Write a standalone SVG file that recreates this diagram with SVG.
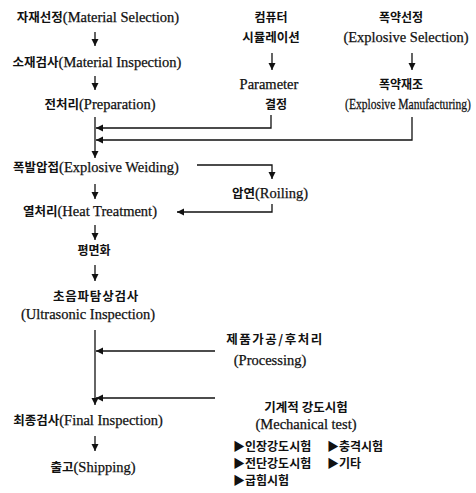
<svg xmlns="http://www.w3.org/2000/svg" width="476" height="493" viewBox="0 0 476 493">
<style>
text{font-family:"Liberation Serif","Noto Sans CJK KR",serif;font-size:14.5px;fill:#111;stroke:#111;stroke-width:0.25;text-anchor:middle}
.l{text-anchor:start}
.k{font-family:"Noto Sans CJK KR",sans-serif;font-weight:bold;font-size:12.5px;stroke:none}
.s{font-size:12px}
.ln{stroke:#111;stroke-width:1.3;fill:none}
</style>
<defs>
<marker id="ah" markerUnits="userSpaceOnUse" markerWidth="8" markerHeight="8" refX="7" refY="3.5" orient="auto">
<path d="M0,0 L7,3.5 L0,7 z" fill="#111"/>
</marker>
</defs>
<rect width="476" height="493" fill="#fff"/>
<g id="connectors">
<line class="ln" x1="95" y1="32" x2="95" y2="46" marker-end="url(#ah)"/>
<line class="ln" x1="95" y1="76" x2="95" y2="90" marker-end="url(#ah)"/>
<line class="ln" x1="95" y1="117" x2="95" y2="158" marker-end="url(#ah)"/>
<line class="ln" x1="272" y1="53" x2="272" y2="70" marker-end="url(#ah)"/>
<line class="ln" x1="412" y1="53" x2="412" y2="70" marker-end="url(#ah)"/>
<polyline class="ln" points="271,115 271,128 96,128" marker-end="url(#ah)"/>
<polyline class="ln" points="412,117 412,140 96,140" marker-end="url(#ah)"/>
<polyline class="ln" points="197,165 272,165 272,179" marker-end="url(#ah)"/>
<line class="ln" x1="95" y1="184" x2="95" y2="199" marker-end="url(#ah)"/>
<polyline class="ln" points="272,204 272,212 177,212" marker-end="url(#ah)"/>
<line class="ln" x1="95" y1="225" x2="95" y2="240" marker-end="url(#ah)"/>
<line class="ln" x1="95" y1="265" x2="95" y2="281" marker-end="url(#ah)"/>
<line class="ln" x1="95" y1="330" x2="95" y2="405" marker-end="url(#ah)"/>
<line class="ln" x1="215" y1="351" x2="96" y2="351" marker-end="url(#ah)"/>
<line class="ln" x1="215" y1="398" x2="96" y2="398" marker-end="url(#ah)"/>
<line class="ln" x1="95" y1="436" x2="95" y2="451" marker-end="url(#ah)"/>
</g>
<g id="material-selection"><text x="98" y="22"><tspan class="k">자재선정</tspan>(Material Selection)</text></g>
<g id="material-inspection"><text x="97" y="67"><tspan class="k">소재검사</tspan>(Material Inspection)</text></g>
<g id="preparation"><text x="100" y="109"><tspan class="k">전처리</tspan>(Preparation)</text></g>
<g id="simulation"><text x="271" y="22" class="k s">컴퓨터</text><text x="271" y="42" class="k">시뮬레이션</text></g>
<g id="parameter"><text x="269" y="89">Parameter</text><text x="276" y="109" class="k s">결정</text></g>
<g id="explosive-selection"><text x="401" y="22" class="k s">폭약선정</text><text x="406" y="42">(Explosive Selection)</text></g>
<g id="explosive-manufacturing"><text x="401" y="89" class="k s">폭약재조</text><text transform="translate(408,109) scale(0.8,1)" x="0" y="0">(Explosive Manufacturing)</text></g>
<g id="explosive-welding"><text x="96" y="172"><tspan class="k">폭발압접</tspan>(Explosive Weiding)</text></g>
<g id="rolling"><text x="270" y="198"><tspan class="k">압연</tspan>(Roiling)</text></g>
<g id="heat-treatment"><text x="90" y="216"><tspan class="k">열처리</tspan>(Heat Treatment)</text></g>
<g id="flattening"><text x="94" y="255" class="k s">평면화</text></g>
<g id="ultrasonic"><text x="96" y="301" class="k" letter-spacing="0.8">초음파탐상검사</text><text x="88" y="319">(Ultrasonic Inspection)</text></g>
<g id="processing"><text x="275" y="344" class="k" letter-spacing="1.5">제품가공/후처리</text><text x="270" y="365">(Processing)</text></g>
<g id="mechanical-test">
<text x="306" y="412" class="k">기계적 강도시험</text>
<text x="306" y="429">(Mechanical test)</text>
<text x="233" y="451" class="l k s">▶인장강도시험</text>
<text x="327" y="451" class="l k s">▶충격시험</text>
<text x="233" y="468" class="l k s">▶전단강도시험</text>
<text x="327" y="468" class="l k s">▶기타</text>
<text x="233" y="485" class="l k s">▶굽힘시험</text>
</g>
<g id="final-inspection"><text x="88" y="425"><tspan class="k">최종검사</tspan>(Final Inspection)</text></g>
<g id="shipping"><text x="93" y="472"><tspan class="k">출고</tspan>(Shipping)</text></g>
</svg>
